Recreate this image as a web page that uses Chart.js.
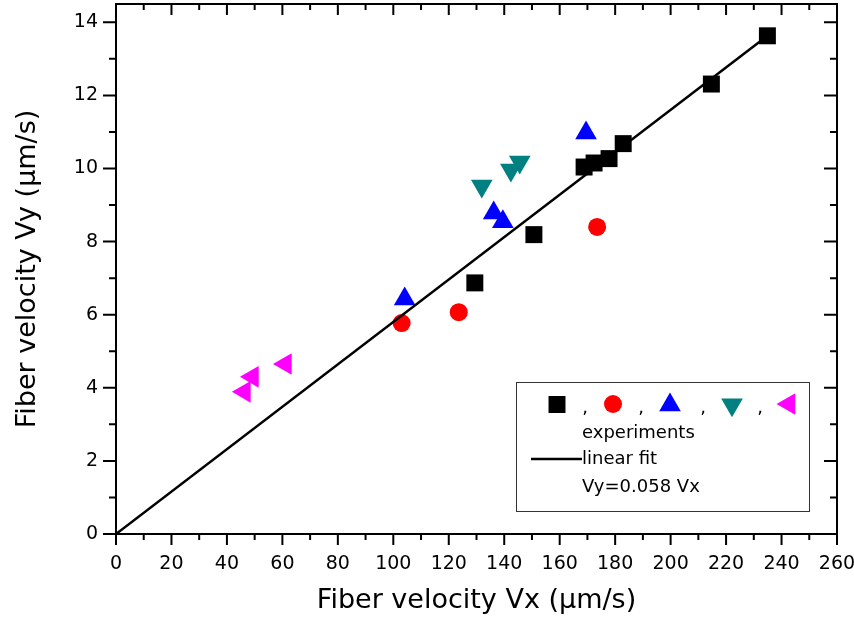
<!DOCTYPE html>
<html>
<head>
<meta charset="utf-8">
<script src="https://cdn.jsdelivr.net/npm/chart.js@4/dist/chart.umd.min.js"></script>
<style>
  body { margin: 0; background: #fff; }
  canvas { display: block; }
</style>
</head>
<body>
<canvas id="velocityChart" width="854" height="620"></canvas>
<script>
// measured points, one array per marker series
const blackX = [129.4, 150.7, 168.8, 172.4, 177.8, 182.9, 214.7, 234.9];
const blackY = [6.87, 8.19, 10.04, 10.15, 10.27, 10.68, 12.31, 13.63];
const redX = [103.0, 123.6, 173.5];
const redY = [5.77, 6.07, 8.40];
const blueX = [104.1, 136.2, 139.5, 169.5];
const blueY = [6.43, 8.78, 8.54, 10.97];
const tealX = [131.9, 142.4, 145.6];
const tealY = [9.52, 9.96, 10.18];
const magentaX = [46.3, 49.2, 61.1];
const magentaY = [3.89, 4.30, 4.65];

// linear fit Vy = 0.058 Vx (end points)
const fitX = [0, 236];
const fitY = [0, 13.69];

// axis ticks
const xTicks = [0, 20, 40, 60, 80, 100, 120, 140, 160, 180, 200, 220, 240, 260];
const yTicks = [0, 2, 4, 6, 8, 10, 12, 14];

const legendText = ['experiments', 'linear fit', 'Vy=0.058 Vx'];

function toPoints(xs, ys) {
    return xs.map((x, i) => ({ x: x, y: ys[i] }));
}

const markerSeries = [
    { xs: blackX, ys: blackY, color: '#000000', style: 'rect', radius: 12, rotation: 0 },
    { xs: redX, ys: redY, color: '#FF0000', style: 'circle', radius: 9, rotation: 0 },
    { xs: blueX, ys: blueY, color: '#0000FF', style: 'triangle', radius: 12.5, rotation: 0 },
    { xs: tealX, ys: tealY, color: '#008080', style: 'triangle', radius: 12.5, rotation: 180 },
    { xs: magentaX, ys: magentaY, color: '#FF00FF', style: 'triangle', radius: 12.5, rotation: -90 }
];

const datasets = markerSeries.map(s => ({
    type: 'scatter',
    data: toPoints(s.xs, s.ys),
    pointStyle: s.style,
    pointRadius: s.radius,
    pointRotation: s.rotation,
    pointBackgroundColor: s.color,
    pointBorderWidth: 0,
    showLine: false
}));

datasets.unshift({
    type: 'line',
    data: toPoints(fitX, fitY),
    borderColor: '#000000',
    borderWidth: 2.5,
    pointRadius: 0,
    fill: false
});

const FONT = '"DejaVu Sans", sans-serif';

// frame with ticks on all four sides (outside bottom/left, inside top/right)
const framePlugin = {
    id: 'frame',
    beforeDatasetsDraw(chart) {
        const ctx = chart.ctx;
        const a = chart.chartArea;
        const xs = chart.scales.x, ys = chart.scales.y;
        ctx.save();
        ctx.strokeStyle = '#000';
        ctx.lineWidth = 2;
        ctx.strokeRect(a.left, a.top, a.right - a.left, a.bottom - a.top);
        ctx.beginPath();
        for (let v = 0; v <= 260; v += 10) {
            const px = xs.getPixelForValue(v);
            const len = xTicks.includes(v) ? 11 : 6;
            ctx.moveTo(px, a.bottom);
            ctx.lineTo(px, a.bottom + len);
            ctx.moveTo(px, a.top);
            ctx.lineTo(px, a.top + len);
        }
        for (let v = 0; v <= 14; v += 1) {
            const py = ys.getPixelForValue(v);
            const len = yTicks.includes(v) ? 13 : 7;
            ctx.moveTo(a.left, py);
            ctx.lineTo(a.left - len, py);
            ctx.moveTo(a.right, py);
            ctx.lineTo(a.right - len, py);
        }
        ctx.stroke();
        ctx.restore();
    }
};

// Origin-style legend box
const legendPlugin = {
    id: 'originLegend',
    afterDraw(chart) {
        const ctx = chart.ctx;
        ctx.save();
        ctx.strokeStyle = '#333';
        ctx.lineWidth = 1;
        ctx.strokeRect(516.5, 382.5, 293, 129);

        const markerX = [557, 613, 670, 732, 789];
        const markerY = [404.5, 404, 405, 404.7, 404];
        const commaX = [585, 641, 703, 760];
        markerSeries.forEach((s, i) => {
            ctx.fillStyle = s.color;
            Chart.helpers.drawPoint(ctx, {
                pointStyle: s.style,
                radius: s.radius,
                rotation: s.rotation,
                borderWidth: 0
            }, markerX[i], markerY[i]);
        });
        ctx.fillStyle = '#000';
        ctx.font = '18px ' + FONT;
        ctx.textAlign = 'center';
        ctx.textBaseline = 'alphabetic';
        commaX.forEach(x => ctx.fillText(',', x, 413));

        ctx.textAlign = 'left';
        ctx.textBaseline = 'middle';
        ctx.fillText(legendText[0], 582, 433);
        ctx.fillText(legendText[1], 582, 459);
        ctx.fillText(legendText[2], 582, 487);

        ctx.strokeStyle = '#000';
        ctx.lineWidth = 2.5;
        ctx.beginPath();
        ctx.moveTo(531, 459);
        ctx.lineTo(582, 459);
        ctx.stroke();
        ctx.restore();
    }
};

const config = {
    data: { datasets: datasets },
    options: {
        responsive: false,
        animation: false,
        layout: { autoPadding: false, padding: { left: 0, top: 4, right: 17, bottom: 0 } },
        plugins: {
            legend: { display: false },
            tooltip: { enabled: false }
        },
        scales: {
            x: {
                type: 'linear',
                min: 0,
                max: 260,
                afterBuildTicks: scale => { scale.ticks = xTicks.map(v => ({ value: v })); },
                afterFit: scale => {
                    scale.height = 86;
                    scale.paddingLeft = 0;
                    scale.paddingRight = 0;
                },
                grid: { display: false, drawTicks: false },
                border: { display: false },
                ticks: {
                    color: '#000',
                    font: { family: FONT, size: 19 },
                    padding: 19,
                    maxRotation: 0,
                    autoSkip: false
                },
                title: {
                    display: true,
                    text: 'Fiber velocity Vx (µm/s)',
                    color: '#000',
                    font: { family: FONT, size: 27 },
                    padding: { top: 0, bottom: 3 }
                }
            },
            y: {
                type: 'linear',
                min: 0,
                max: 14.5,
                afterBuildTicks: scale => { scale.ticks = yTicks.map(v => ({ value: v })); },
                afterFit: scale => {
                    scale.width = 116;
                    scale.paddingTop = 0;
                    scale.paddingBottom = 0;
                },
                grid: { display: false, drawTicks: false },
                border: { display: false },
                ticks: {
                    color: '#000',
                    font: { family: FONT, size: 19 },
                    padding: 18,
                    autoSkip: false
                },
                title: {
                    display: true,
                    text: 'Fiber velocity Vy (µm/s)',
                    color: '#000',
                    font: { family: FONT, size: 27 },
                    padding: { top: 12, bottom: 0 }
                }
            }
        }
    },
    plugins: [framePlugin, legendPlugin]
};

const ctx = document.getElementById('velocityChart').getContext('2d');
new Chart(ctx, config);
</script>
</body>
</html>
